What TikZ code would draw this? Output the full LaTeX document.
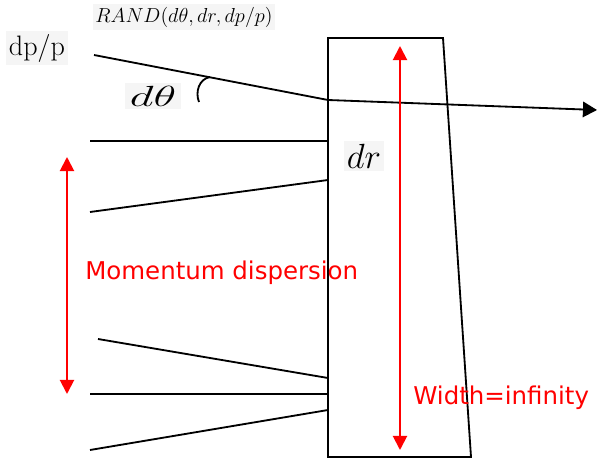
\documentclass[tikz,border=0pt]{standalone}
\usepackage{fontspec}
\newfontfamily\labelfont{DejaVu Sans}
\usetikzlibrary{arrows.meta, positioning}
\definecolor{LabelBg}{HTML}{F5F5F5}

\begin{document}
\begin{tikzpicture}[
      x=0.025cm, y=-0.025cm,
      ray/.style={line width=1.3pt, black},
      dim/.style={{Triangle[length=10pt, width=10pt]}-{Triangle[length=10pt, width=10pt]}, red, line width=1.4pt},
      redlabel/.style={red, font=\labelfont\fontsize{17.4}{20}\selectfont, anchor=west, inner sep=0pt},
      mathlabel/.style={fill=LabelBg, inner sep=2pt}
    ]
      \useasboundingbox (0,0) rectangle (600,459);
      % slab
      \coordinate (tl) at (328,38);
      \coordinate (tr) at (443,38);
      \coordinate (br) at (471,457);
      \coordinate (bl) at (328,457);
      \draw[ray] (tl) -- (tr) -- (br) -- (bl) -- cycle;
      % reference track
      \coordinate (in) at (94,55);
      \coordinate (hit) at (328,100);
      \coordinate (out) at (597,110);
      \draw[ray] (in) -- (hit);
      \draw[ray, -{Triangle[length=10pt, width=11pt]}] (hit) -- (out);
      \draw[ray] (210,77) .. controls (199,79) and (195,92) .. (199,102);
      % incoming tracks
      \coordinate (a0) at (90,141);  \coordinate (a1) at (328,141);
      \coordinate (b0) at (90,212);  \coordinate (b1) at (328,180);
      \coordinate (c0) at (98,339);  \coordinate (c1) at (328,378);
      \coordinate (d0) at (90,394);  \coordinate (d1) at (328,394);
      \coordinate (e0) at (90,450);  \coordinate (e1) at (328,410);
      \draw[ray] (a0) -- (a1);
      \draw[ray] (b0) -- (b1);
      \draw[ray] (c0) -- (c1);
      \draw[ray] (d0) -- (d1);
      \draw[ray] (e0) -- (e1);
      % dimensions
      \coordinate (wtop) at (400,46);
      \coordinate (wbot) at (400,450);
      \coordinate (mtop) at (67,157);
      \coordinate (mbot) at (67,394);
      \draw[dim] (wtop) -- (wbot);
      \draw[dim] (mtop) -- (mbot);
      % labels
      \node[mathlabel, font=\fontsize{15.8}{18}\selectfont] (rand) at (184,17) {$RAND(d\theta, dr, dp/p)$};
      \node[mathlabel, font=\fontsize{20}{22}\selectfont] (dpp) at (37,48) {dp/p};
      \node[mathlabel, font=\fontsize{20}{22}\selectfont, xscale=1.6] (dtheta) at (153,96) {$d\theta$};
      \node[mathlabel, font=\fontsize{23}{25}\selectfont] (dr) at (364,156) {$dr$};
      \node[redlabel] (mom) at (85,273) {Momentum dispersion};
      \node[redlabel] (width) at (413,398) {Width=infinity};
    \end{tikzpicture}
\end{document}
